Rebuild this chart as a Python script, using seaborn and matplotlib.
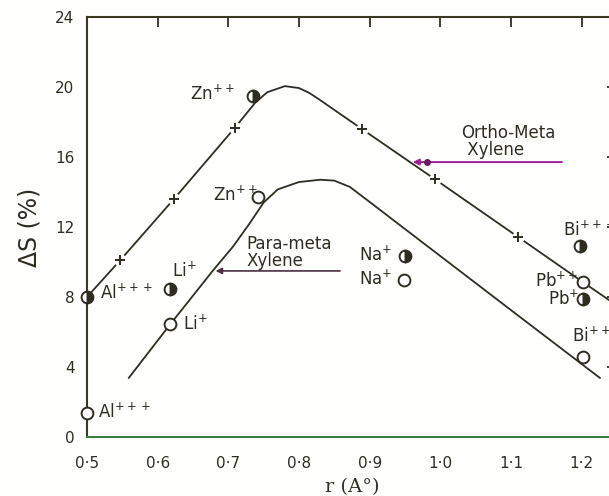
import numpy as np
import pandas as pd
import matplotlib
matplotlib.use('Agg')
import matplotlib.pyplot as plt
import seaborn as sns

# ---- data ----
# ortho-meta xylene curve (upper)
ortho_r = [0.50, 0.547, 0.623, 0.709, 0.738, 0.755, 0.78, 0.80, 0.815, 0.83, 0.889, 0.992, 1.11, 1.20, 1.245]
ortho_ds = [8.0, 10.1, 13.6, 17.66, 19.1, 19.7, 20.05, 19.94, 19.65, 19.25, 17.6, 14.74, 11.43, 8.9, 7.65]
ortho_plus_r = [0.547, 0.623, 0.709, 0.889, 0.992, 1.11]
ortho_plus_ds = [10.1, 13.6, 17.66, 17.6, 14.74, 11.43]

# para-meta xylene curve (lower)
para_r = [0.559, 0.617, 0.678, 0.707, 0.73, 0.75, 0.77, 0.80, 0.83, 0.85, 0.872, 0.90, 1.0, 1.1, 1.226]
para_ds = [3.37, 6.4, 9.5, 10.9, 12.2, 13.4, 14.15, 14.57, 14.7, 14.65, 14.29, 13.43, 10.34, 7.25, 3.37]

# measured points: open = para-meta, half filled = ortho-meta
open_r = [0.50, 0.617, 0.742, 0.948, 1.2016, 1.2016]
open_ds = [1.37, 6.46, 13.7, 8.97, 8.86, 4.57]
half_r = [0.50, 0.617, 0.735, 0.95, 1.197, 1.2016]
half_ds = [8.0, 8.46, 19.5, 10.34, 10.9, 7.89]

# ion labels (text, r, dS)
ion_text = ['Zn$^{++}$', 'Zn$^{++}$', 'Al$^{+++}$', 'Al$^{+++}$', 'Li$^{+}$', 'Li$^{+}$',
            'Na$^{+}$', 'Na$^{+}$', 'Bi$^{+++}$', 'Pb$^{++}$', 'Pb$^{+}$', 'Bi$^{+++}$']
ion_r = [0.646, 0.678, 0.518, 0.516, 0.620, 0.636, 0.885, 0.885, 1.173, 1.134, 1.152, 1.187]
ion_ds = [19.6, 13.8, 8.2, 1.45, 9.5, 6.45, 10.4, 9.05, 11.8, 8.9, 7.9, 5.75]

xticks = [0.5, 0.6, 0.7, 0.8, 0.9, 1.0, 1.1, 1.2]
xtick_labels = ['0·5', '0·6', '0·7', '0·8', '0·9', '1·0', '1·1', '1·2']
yticks = [0, 4, 8, 12, 16, 20, 24]

ink = '#2f2d22'

sns.set_theme(style='white')
plt.rcParams['font.family'] = ['DejaVu Sans']
plt.rcParams['mathtext.fontset'] = 'dejavusans'

fig = plt.figure(figsize=(6.09, 4.96), dpi=100)
fig.patch.set_facecolor('#fffffd')
ax = fig.add_axes([87 / 609, 59 / 496, (617 - 87) / 609, 420 / 496])
ax.set_facecolor('#fffffd')

ortho_df = pd.DataFrame({'r': ortho_r, 'dS': ortho_ds})
para_df = pd.DataFrame({'r': para_r, 'dS': para_ds})
sns.lineplot(data=ortho_df, x='r', y='dS', sort=False, color=ink, lw=1.3, ax=ax)
sns.lineplot(data=para_df, x='r', y='dS', sort=False, color=ink, lw=1.3, ax=ax)

# the + marks break the line a little
ax.plot(ortho_plus_r, ortho_plus_ds, 'o', ms=9, color='#fffffd', mec='none', zorder=3)
ax.plot(ortho_plus_r, ortho_plus_ds, '+', ms=7, mew=1.4, color=ink, zorder=4)

ax.plot(open_r, open_ds, 'o', ms=8.5, mfc='white', mec=ink, mew=1.4, zorder=5, clip_on=False)
ax.plot(half_r, half_ds, 'o', ms=8.5, fillstyle='right', mfc=ink, mfcalt='white',
        mec=ink, mew=1.4, zorder=5, clip_on=False)

for t, xr, yd in zip(ion_text, ion_r, ion_ds):
    ax.text(xr, yd, t, fontsize=12, color=ink, ha='left', va='center')

# arrows to the curves
ax.annotate('', xy=(0.957, 15.71), xytext=(1.176, 15.71),
            arrowprops=dict(arrowstyle='-|>', color='#a0209a', lw=1.4, mutation_scale=9))
ax.plot([0.981], [15.71], 'o', ms=4, color='#6a1a60', zorder=4)
ax.text(1.030, 16.9, 'Ortho-Meta\n Xylene', fontsize=12, color=ink, ha='left', va='center',
        linespacing=0.95)

ax.annotate('', xy=(0.678, 9.49), xytext=(0.862, 9.49),
            arrowprops=dict(arrowstyle='-|>', color='#4a3040', lw=1.2, mutation_scale=9))
ax.text(0.726, 10.55, 'Para-meta\nXylene', fontsize=12, color=ink, ha='left', va='center',
        linespacing=0.9)

ax.set_xlim(0.5, 1.25)
ax.set_ylim(0, 24)
ax.set_xticks(xticks)
ax.set_xticklabels(xtick_labels)
ax.set_yticks(yticks)
ax.tick_params(axis='both', direction='in', length=7, width=1.3, colors=ink,
               labelsize=11, top=True, right=True)
ax.tick_params(axis='x', pad=14)
ax.tick_params(axis='y', pad=9)

ax.set_xlabel('r (A°)', fontsize=14, color=ink, family='DejaVu Serif', labelpad=5)
ax.set_ylabel('ΔS (%)', fontsize=17, color=ink, labelpad=10)

for side in ['left', 'top', 'right']:
    ax.spines[side].set_color('#3a3a22')
    ax.spines[side].set_linewidth(1.5)
ax.spines['bottom'].set_color('#3d7d45')
ax.spines['bottom'].set_linewidth(1.5)

fig.savefig('out.png', dpi=100, facecolor=fig.get_facecolor())
